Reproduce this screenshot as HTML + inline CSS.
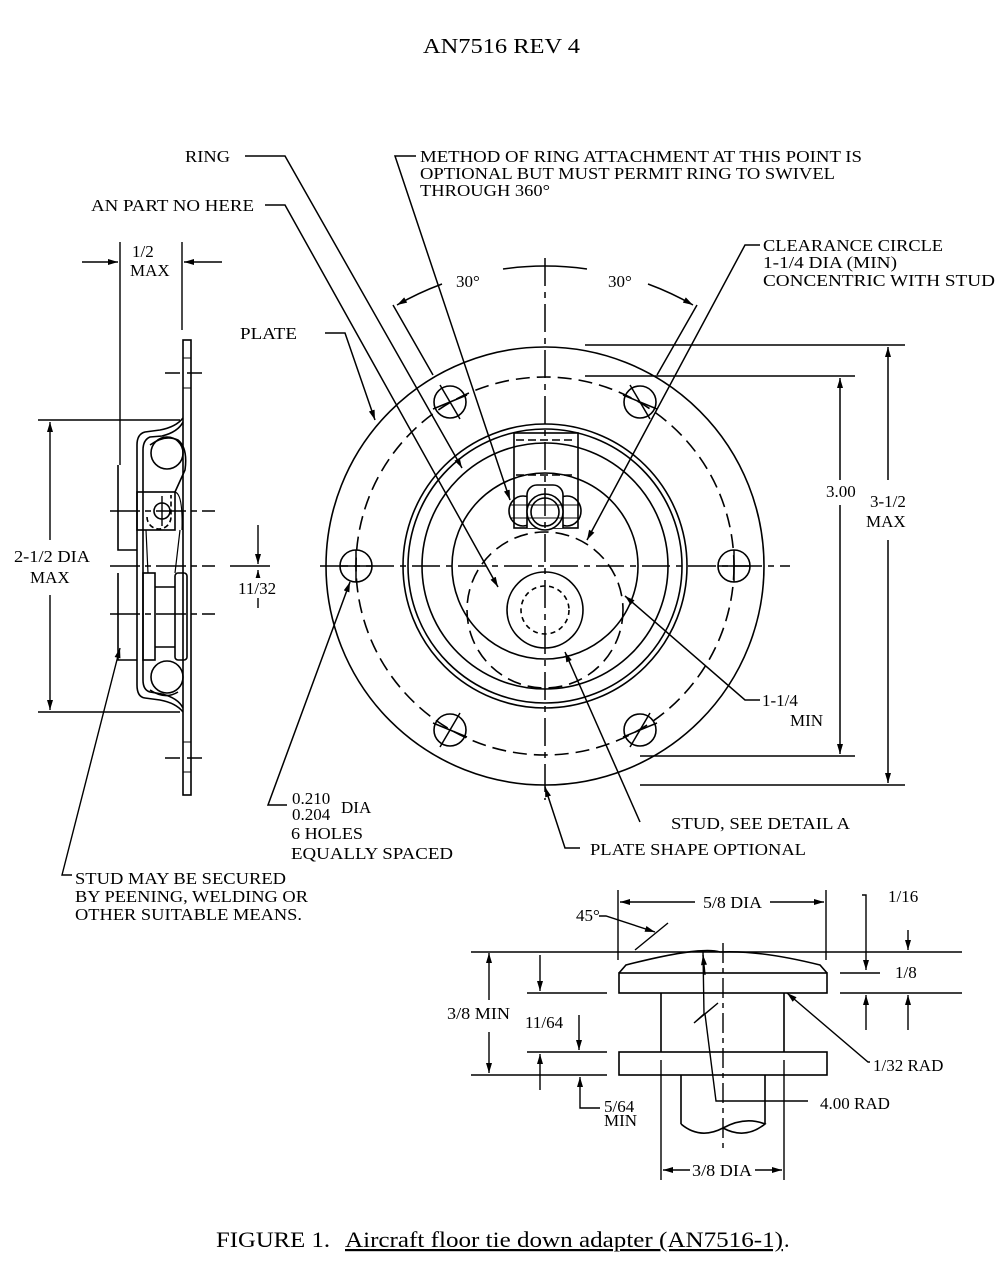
<!DOCTYPE html>
<html><head><meta charset="utf-8"><style>
html,body{margin:0;padding:0;background:#fff;}
svg{display:block}
text{font-family:"Liberation Serif",serif;font-size:17px;fill:#000}
</style></head><body>
<svg width="1002" height="1279" viewBox="0 0 1002 1279" xmlns="http://www.w3.org/2000/svg">
<defs>
<marker id="a" viewBox="0 0 10 6" refX="10" refY="3" markerWidth="12" markerHeight="6" markerUnits="userSpaceOnUse" orient="auto"><path d="M0,0L10,3L0,6z" fill="#000"/></marker>
</defs>
<text x="423" y="53" textLength="157" lengthAdjust="spacingAndGlyphs" style="font-size:21px">AN7516 REV 4</text>
<text x="216" y="1247" textLength="114" lengthAdjust="spacingAndGlyphs" style="font-size:22px">FIGURE 1.</text>
<text x="345" y="1247" textLength="438" lengthAdjust="spacingAndGlyphs" style="font-size:22px;text-decoration:underline">Aircraft floor tie down adapter (AN7516-1)</text>
<text x="784" y="1247" style="font-size:22px">.</text>

<!-- MAIN VIEW -->
<g fill="none" stroke="#000" stroke-width="1.6">
<circle cx="545" cy="566" r="219"/>
<circle cx="545" cy="566" r="189" stroke-dasharray="14,7"/>
<circle cx="545" cy="566" r="142"/>
<circle cx="545" cy="566" r="137"/>
<circle cx="545" cy="566" r="123"/>
<circle cx="545" cy="566" r="93"/>
<circle cx="545" cy="610" r="78" stroke-dasharray="14,7"/>
<circle cx="545" cy="610" r="38"/>
<circle cx="545" cy="610" r="24" stroke-dasharray="5,4"/>
<circle cx="356" cy="566" r="16"/><circle cx="734" cy="566" r="16"/>
<circle cx="450" cy="402" r="16"/><circle cx="640" cy="402" r="16"/>
<circle cx="450" cy="730" r="16"/><circle cx="640" cy="730" r="16"/>
<rect x="514" y="433" width="64" height="95"/>
<path d="M516,440H576M516,475H576" stroke-dasharray="8,4"/>
<ellipse cx="523" cy="511" rx="14" ry="15"/><ellipse cx="567" cy="511" rx="14" ry="15"/>
<path d="M527,528V495a10,10 0 0 1 10,-10h16a10,10 0 0 1 10,10V528" fill="#fff"/>
<circle cx="545" cy="512" r="18" fill="#fff"/><circle cx="545" cy="512" r="14"/>
<path d="M510,505H580M510,518H580" stroke-width="1"/>
</g>
<g stroke="#000" stroke-width="1.5" fill="none">
<path d="M545,258V800" stroke-dasharray="28,6,6,6"/>
<path d="M320,566H790" stroke-dasharray="28,6,6,6"/>
<path d="M440,385l20,34M433,409l34,-14M630,385l20,34M657,409l-34,-14M440,747l20,-34M433,723l34,14M630,747l20,-34M657,723l-34,14M340,566h32M356,550v32M718,566h32M734,550v32"/>
<path d="M393,305L433,375M697,305L657,375"/>
<path d="M442,284A300,300 0 0 0 397,305" marker-end="url(#a)"/>
<path d="M503,269A300,300 0 0 1 587,269"/>
<path d="M648,284A300,300 0 0 1 693,305" marker-end="url(#a)"/>
<path d="M245,156H285L462,468" marker-end="url(#a)"/>
<path d="M265,205H285L498,587" marker-end="url(#a)"/>
<path d="M325,333H345L375,420" marker-end="url(#a)"/>
<path d="M416,156H395L510,500" marker-end="url(#a)"/>
<path d="M760,245H745L587,540" marker-end="url(#a)"/>
<path d="M760,700H745L625,596" marker-end="url(#a)"/>
<path d="M640,822L565,652" marker-end="url(#a)"/>
<path d="M580,848H565L545,787" marker-end="url(#a)"/>
<path d="M287,805H268L350,582" marker-end="url(#a)"/>
<path d="M585,376H855M640,756H855M585,345H905M640,785H905"/>
<path d="M840,480V378" marker-end="url(#a)"/><path d="M840,505V754" marker-end="url(#a)"/>
<path d="M888,480V347" marker-end="url(#a)"/><path d="M888,540V783" marker-end="url(#a)"/>
</g>
<text x="420" y="162" textLength="442" lengthAdjust="spacingAndGlyphs">METHOD OF RING ATTACHMENT AT THIS POINT IS</text>
<text x="420" y="179" textLength="415" lengthAdjust="spacingAndGlyphs">OPTIONAL BUT MUST PERMIT RING TO SWIVEL</text>
<text x="420" y="196" textLength="130" lengthAdjust="spacingAndGlyphs">THROUGH 360°</text>
<text x="185" y="162" textLength="45" lengthAdjust="spacingAndGlyphs">RING</text>
<text x="91" y="211" textLength="163" lengthAdjust="spacingAndGlyphs">AN PART NO HERE</text>
<text x="240" y="339" textLength="57" lengthAdjust="spacingAndGlyphs">PLATE</text>
<text x="763" y="251" textLength="180" lengthAdjust="spacingAndGlyphs">CLEARANCE CIRCLE</text>
<text x="763" y="268" textLength="134" lengthAdjust="spacingAndGlyphs">1-1/4 DIA (MIN)</text>
<text x="763" y="286" textLength="232" lengthAdjust="spacingAndGlyphs">CONCENTRIC WITH STUD</text>
<text x="456" y="287">30°</text>
<text x="608" y="287">30°</text>
<text x="826" y="497">3.00</text>
<text x="870" y="507">3-1/2</text>
<text x="866" y="527">MAX</text>
<text x="762" y="706">1-1/4</text>
<text x="790" y="726">MIN</text>
<text x="671" y="829" textLength="179" lengthAdjust="spacingAndGlyphs">STUD, SEE DETAIL A</text>
<text x="590" y="855" textLength="216" lengthAdjust="spacingAndGlyphs">PLATE SHAPE OPTIONAL</text>
<text x="292" y="804">0.210</text>
<text x="292" y="820">0.204</text>
<text x="341" y="813">DIA</text>
<text x="291" y="839" textLength="72" lengthAdjust="spacingAndGlyphs">6 HOLES</text>
<text x="291" y="859" textLength="162" lengthAdjust="spacingAndGlyphs">EQUALLY SPACED</text>
<text x="75" y="884" textLength="211" lengthAdjust="spacingAndGlyphs">STUD MAY BE SECURED</text>
<text x="75" y="902" textLength="233" lengthAdjust="spacingAndGlyphs">BY PEENING, WELDING OR</text>
<text x="75" y="920" textLength="227" lengthAdjust="spacingAndGlyphs">OTHER SUITABLE MEANS.</text>

<!-- SIDE VIEW -->
<g fill="none" stroke="#000" stroke-width="1.6">
<rect x="183" y="340" width="8" height="455"/>
<path d="M183,358h8M183,388h8M183,742h8M183,772h8" stroke-width="1"/>
<path d="M183,418Q176,427 160,430L145,432Q137,434 137,445V685Q137,697 145,698L160,700Q176,703 183,712"/>
<path d="M183,422Q178,432 162,436L150,437Q143,440 143,450V680Q143,690 150,692L162,694Q178,698 183,708"/>
<path d="M150,445Q165,434 178,440Q188,448 185,470L175,492M150,690Q165,700 178,692"/>
<circle cx="167" cy="453" r="16"/><circle cx="167" cy="677" r="16"/>
<rect x="137" y="492" width="38" height="38"/>
<path d="M147,517a12,12 0 0 0 24,0V495" stroke-dasharray="5,3"/>
<circle cx="162" cy="511" r="8"/>
<path d="M175,492q8,2 7,38M146,530L148,573M180,530L175,573" stroke-width="1.2"/>
<rect x="143" y="573" width="12" height="87"/>
<rect x="175" y="573" width="12" height="87" rx="3"/>
<path d="M155,587H175M155,647H175"/>
<path d="M118,465V550H137M118,573V660H137"/>
</g>
<g stroke="#000" stroke-width="1.4" fill="none">
<path d="M120,242V465M182,242V330"/>
<path d="M82,262H118" marker-end="url(#a)"/><path d="M222,262H184" marker-end="url(#a)"/>
<path d="M165,373h15m7,0h15M165,758h15m7,0h15" />
<path d="M110,511H215M110,566H215M110,614H215M162,496v30" stroke-dasharray="30,5,6,5"/>
<path d="M38,420H180M38,712H180"/>
<path d="M50,540V422" marker-end="url(#a)"/><path d="M50,595V710" marker-end="url(#a)"/>
<path d="M258,525V564" marker-end="url(#a)"/><path d="M258,608V570" marker-end="url(#a)"/>
<path d="M230,566H270"/>
<path d="M72,875H62L120,648" marker-end="url(#a)"/>
</g>
<rect x="236" y="578" width="44" height="20" fill="#fff"/>
<text x="132" y="257">1/2</text>
<text x="130" y="276">MAX</text>
<text x="14" y="562" textLength="76" lengthAdjust="spacingAndGlyphs">2-1/2 DIA</text>
<text x="30" y="583">MAX</text>
<text x="238" y="594">11/32</text>

<!-- DETAIL A -->
<g fill="none" stroke="#000" stroke-width="1.6">
<path d="M619,973L626,965Q700,946 720,952Q760,950 820,965L827,973"/>
<rect x="619" y="973" width="208" height="20"/>
<path d="M661,993V1052M784,993V1052"/>
<rect x="619" y="1052" width="208" height="23"/>
<path d="M681,1075V1124M765,1075V1124"/>
<path d="M681,1124Q700,1140 723,1128Q745,1116 765,1124Q745,1140 723,1128"/>
</g>
<g stroke="#000" stroke-width="1.4" fill="none">
<path d="M723,943V1148" stroke-dasharray="20,5,5,5"/>
<path d="M618,890V960M826,890V960M661,1060V1180M784,1060V1180"/>
<path d="M695,902H620" marker-end="url(#a)"/><path d="M770,902H824" marker-end="url(#a)"/>
<path d="M471,952H962M527,993H607M840,973H880M840,993H962M471,1075H607M527,1052H607"/>
<path d="M599,916H606L655,932" marker-end="url(#a)"/>
<path d="M635,950L668,923"/>
<path d="M489,1000V953" marker-end="url(#a)"/><path d="M489,1032V1073" marker-end="url(#a)"/>
<path d="M540,955V991" marker-end="url(#a)"/>
<path d="M579,1015V1050" marker-end="url(#a)"/>
<path d="M540,1090V1054" marker-end="url(#a)"/>
<path d="M600,1108H580V1077" marker-end="url(#a)"/>
<path d="M862,895H866V970" marker-end="url(#a)"/><path d="M866,1030V995" marker-end="url(#a)"/>
<path d="M908,930V950" marker-end="url(#a)"/><path d="M908,1030V995" marker-end="url(#a)"/>
<path d="M870,1062H868L787,993" marker-end="url(#a)"/>
<path d="M808,1101H716L705,1014L718,1003L694,1023L704,1014L703,952" />
<path d="M705,975L703,955" marker-end="url(#a)"/>
<path d="M690,1170H663" marker-end="url(#a)"/><path d="M755,1170H782" marker-end="url(#a)"/>
</g>
<rect x="445" y="1004" width="68" height="20" fill="#fff"/>
<text x="703" y="908" textLength="59" lengthAdjust="spacingAndGlyphs">5/8 DIA</text>
<text x="576" y="921">45°</text>
<text x="888" y="902">1/16</text>
<text x="895" y="978">1/8</text>
<text x="447" y="1019" textLength="63" lengthAdjust="spacingAndGlyphs">3/8 MIN</text>
<text x="525" y="1028">11/64</text>
<text x="604" y="1112">5/64</text>
<text x="604" y="1126">MIN</text>
<text x="873" y="1071">1/32 RAD</text>
<text x="820" y="1109">4.00 RAD</text>
<text x="692" y="1176" textLength="60" lengthAdjust="spacingAndGlyphs">3/8 DIA</text>
</svg>
</body></html>
